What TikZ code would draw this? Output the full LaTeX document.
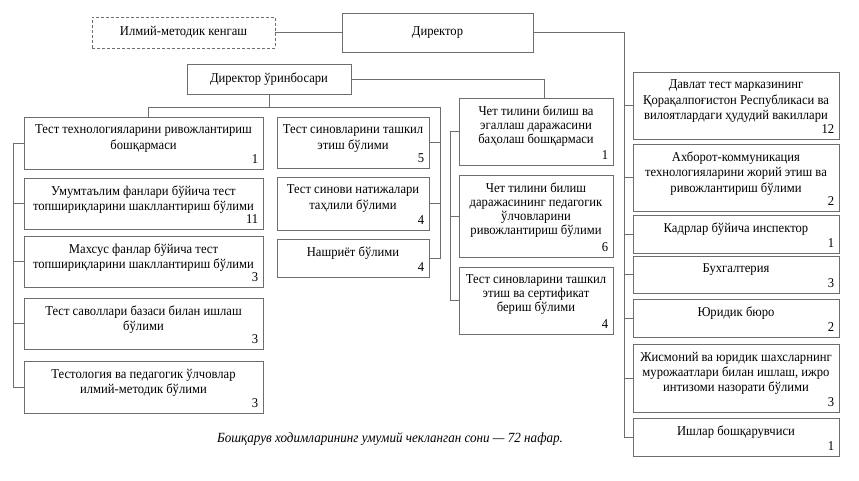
\documentclass[tikz,border=0pt]{standalone}
\usepackage{fontspec}
\setmainfont{Liberation Serif}[FakeStretch=0.935]
\usetikzlibrary{fit}
\definecolor{ln}{HTML}{6E6E6E}
\tikzset{
  x=1pt, y=-1pt,
  boxst/.style={draw=ln, line width=0.9pt, inner sep=0pt},
  dboxst/.style={boxst, dash pattern=on 3pt off 2pt},
  txt/.style={inner sep=0pt, align=center, font=\fontsize{13.5}{15.5}\selectfont},
  txtb/.style={inner sep=0pt, align=center, font=\fontsize{13.5}{14}\selectfont},
  numst/.style={inner sep=0pt, font=\fontsize{13.5}{15.5}\selectfont},
  conn/.style={draw=ln, line width=0.8pt},
}
% name, x1, y1, x2, y2, text, number, text style
\newcommand\orgbox[8]{%
  \path (#2,#3) coordinate (#1nw) (#4,#5) coordinate (#1se);
  \node[boxst, fit=(#1nw)(#1se)] (#1) {};
  \node[#8, anchor=north] (#1t) at ([yshift=-8pt]#1.north) {#6};
  \node[numst, anchor=base east] (#1n) at ([xshift=-5pt,yshift=6pt]#1.south east) {#7};
}
\begin{document}
\begin{tikzpicture}
\useasboundingbox (0,0) rectangle (859,480);
% top
\path (342,13) coordinate (dirnw) (533,52) coordinate (dirse);
\node[boxst, fit=(dirnw)(dirse)] (dir) {};
\node[txt] (dirt) at (dir.center) {Директор};
\path (92,17) coordinate (kngnw) (275,48) coordinate (kngse);
\node[dboxst, fit=(kngnw)(kngse)] (kng) {};
\node[txt] (kngt) at (kng.center) {Илмий-методик кенгаш};
\path (187,64) coordinate (depnw) (351,94) coordinate (depse);
\node[boxst, fit=(depnw)(depse)] (dep) {};
\node[txt] (dept) at (dep.center) {Директор ўринбосари};

% left column
\orgbox{b1}{24}{117}{263}{169}{Тест технологияларини ривожлантириш\\бошқармаси}{1}{txt}
\orgbox{b2}{24}{178}{263}{229}{Умумтаълим фанлари бўйича тест\\топшириқларини шакллантириш бўлими}{11}{txt}
\orgbox{b3}{24}{236}{263}{287}{Махсус фанлар бўйича тест\\топшириқларини шакллантириш бўлими}{3}{txt}
\orgbox{b4}{24}{298}{263}{349}{Тест саволлари базаси билан ишлаш\\бўлими}{3}{txt}
\orgbox{b5}{24}{361}{263}{413}{Тестология ва педагогик ўлчовлар\\илмий-методик бўлими}{3}{txt}

% middle column
\orgbox{mA}{277}{117}{429}{168}{Тест синовларини ташкил\\этиш бўлими}{5}{txt}
\orgbox{mB}{277}{177}{429}{230}{Тест синови натижалари\\таҳлили бўлими}{4}{txt}
\orgbox{mC}{277}{239}{429}{277}{Нашриёт бўлими}{4}{txt}

% third column
\orgbox{tD}{459}{98}{613}{165}{Чет тилини билиш ва\\эгаллаш даражасини\\баҳолаш бошқармаси}{1}{txtb}
\orgbox{tE}{459}{175}{613}{257}{Чет тилини билиш\\даражасининг педагогик\\ўлчовларини\\ривожлантириш бўлими}{6}{txtb}
\orgbox{tF}{459}{267}{613}{334}{Тест синовларини ташкил\\этиш ва сертификат\\бериш бўлими}{4}{txtb}

% right column
\orgbox{rG}{633}{72}{839}{139}{Давлат тест марказининг\\Қорақалпоғистон Республикаси ва\\вилоятлардаги ҳудудий вакиллари}{12}{txt}
\orgbox{rH}{633}{144}{839}{211}{Ахборот-коммуникация\\технологияларини жорий этиш ва\\ривожлантириш бўлими}{2}{txt}
\orgbox{rI}{633}{215}{839}{253}{Кадрлар бўйича инспектор}{1}{txt}
\orgbox{rJ}{633}{256}{839}{293}{Бухгалтерия}{3}{txt}
\orgbox{rK}{633}{299}{839}{337}{Юридик бюро}{2}{txt}
\orgbox{rL}{633}{344}{839}{412}{Жисмоний ва юридик шахсларнинг\\мурожаатлари билан ишлаш, ижро\\интизоми назорати бўлими}{3}{txt}
\orgbox{rM}{633}{418}{839}{456}{Ишлар бошқарувчиси}{1}{txt}

% caption
\node[inner sep=0pt, font=\fontsize{14}{16}\selectfont\itshape] (cap) at (390,439)
  {Бошқарув ходимларининг умумий чекланган сони — 72 нафар.};

% bus coordinates
\coordinate (rbus) at (624,440);
\coordinate (hbL) at (148,107);
\coordinate (hbR) at (440,107);
\coordinate (lbus) at (13,143);
\coordinate (tj) at (544,79);
\coordinate (tbus) at (450,132);

% connectors
\draw[conn] (kng.east) -- (dir.west);
\draw[conn] (dir.east) -| (rM.west -| rbus) -- (rM.west);
\foreach \r in {rG,rH,rI,rJ,rK,rL}
  \draw[conn] (\r.west) -- (\r.west -| rbus);
\draw[conn] (dep.south) -- (dep.south |- hbL);
\draw[conn] (b1.north -| hbL) -- (hbL) -- (hbR) -- (mC.east -| hbR) -- (mC.east);
\draw[conn] (mA.east) -- (mA.east -| hbR);
\draw[conn] (mB.east) -- (mB.east -| hbR);
\draw[conn] (b1.west) -- (b1.west -| lbus) -- (b5.west -| lbus) -- (b5.west);
\foreach \b in {b2,b3,b4}
  \draw[conn] (\b.west) -- (\b.west -| lbus);
\draw[conn] (dep.east) -- (dep.east -| tj) -- (tD.north -| tj);
\draw[conn] (tD.west) -- (tD.west -| tbus) -- (tF.west -| tbus) -- (tF.west);
\draw[conn] (tE.west) -- (tE.west -| tbus);
\end{tikzpicture}
\end{document}
